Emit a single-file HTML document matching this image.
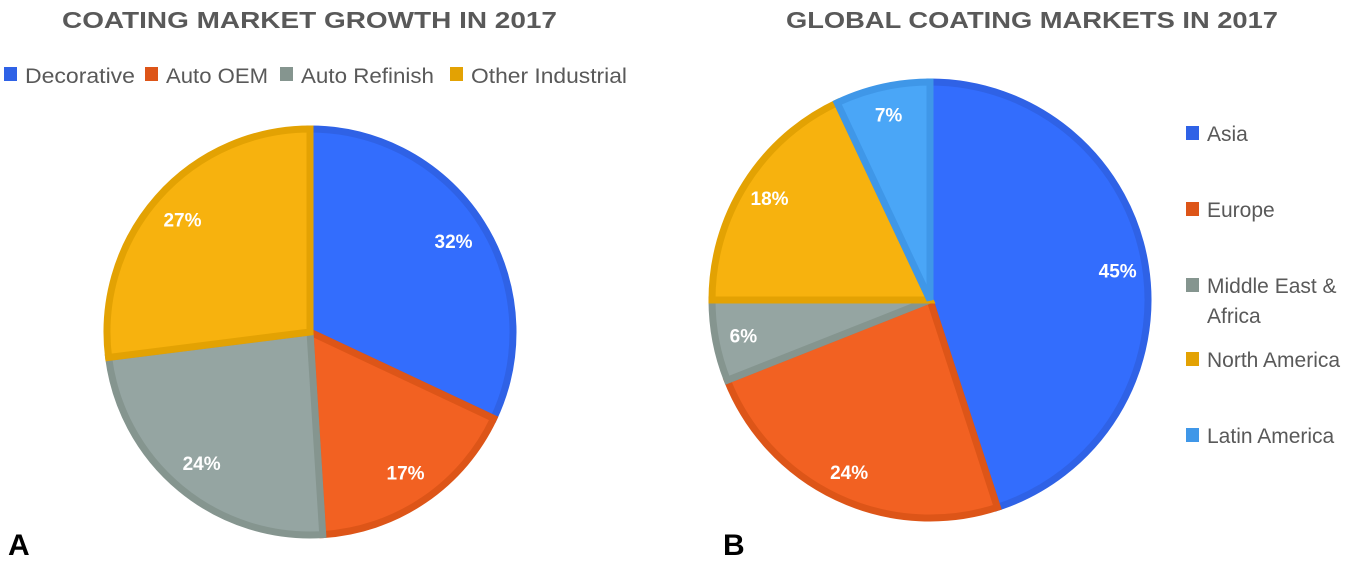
<!DOCTYPE html>
<html><head><meta charset="utf-8"><style>
body{margin:0;background:#fff;width:1358px;height:567px;overflow:hidden;font-family:"Liberation Sans",sans-serif}
svg{position:absolute;left:0;top:0}
</style></head><body>
<svg width="1358" height="567" id="svg">
<text x="62" y="28" font-size="23" font-weight="bold" fill="#595959" textLength="495" lengthAdjust="spacingAndGlyphs">COATING MARKET GROWTH IN 2017</text>
<text x="786" y="28" font-size="23" font-weight="bold" fill="#595959" textLength="492" lengthAdjust="spacingAndGlyphs">GLOBAL COATING MARKETS IN 2017</text>
<g id="legA"></g>
<g id="legB"></g>
<g id="pieA"></g>
<g id="pieB"></g>
<text x="8" y="555" font-size="30" font-weight="bold" fill="#000">A</text>
<text x="723" y="555" font-size="30" font-weight="bold" fill="#000">B</text>
</svg>
<script>
const catsA=["Decorative","Auto OEM","Auto Refinish","Other Industrial"];
const valsA=[32,17,24,27];
const catsB=["Asia","Europe","Middle East & Africa","North America","Latin America"];
const valsB=[45,24,6,18,7];
const NS="http://www.w3.org/2000/svg";
const fill={blue:"#336dfd",orange:"#f26122",gray:"#95a5a2",yellow:"#f7b20e",light:"#4aa6f7"};
const stroke={blue:"#2f62e6",orange:"#dd5518",gray:"#85958f",yellow:"#e3a203",light:"#3f97e8"};
const colA=["blue","orange","gray","yellow"];
const colB=["blue","orange","gray","yellow","light"];
function mk(t,a,p){const e=document.createElementNS(NS,t);for(const k in a)e.setAttribute(k,a[k]);p.appendChild(e);return e;}
function pie(gid,vals,cols,cx,cy,r,lr,names){
  const g=document.getElementById(gid);const tot=vals.reduce((a,b)=>a+b,0);let a0=0;
  vals.forEach((v,i)=>{
    const a1=a0+v/tot*2*Math.PI;
    const x0=cx+r*Math.sin(a0),y0=cy-r*Math.cos(a0),x1=cx+r*Math.sin(a1),y1=cy-r*Math.cos(a1);
    const p=mk("path",{d:`M${cx},${cy}L${x0},${y0}A${r},${r} 0 ${a1-a0>Math.PI?1:0} 1 ${x1},${y1}Z`,fill:fill[cols[i]],stroke:stroke[cols[i]],"stroke-width":7,"stroke-linejoin":"miter"},g);
    
    
    const m=(a0+a1)/2;
    const t=mk("text",{x:cx+lr*Math.sin(m),y:cy-lr*Math.cos(m)+7,"text-anchor":"middle","font-size":19,"font-weight":"bold",fill:"#fff"},g);
    t.textContent=v+"%";
    
    
    a0=a1;
  });
}
pie("pieA",valsA,colA,310,332,203,170,catsA);
pie("pieB",valsB,colB,930,300,218,190,catsB);
// legend A
const la=document.getElementById("legA");const ax=[4,145,280,450];const tl=[110,102,133,156];
catsA.forEach((c,i)=>{
  const r=mk("rect",{x:ax[i],y:67,width:13,height:14,fill:stroke[colA[i]]},la);
  
  
  const t=mk("text",{x:ax[i]+21,y:83,"font-size":21,fill:"#595959",textLength:tl[i],lengthAdjust:"spacingAndGlyphs"},la);t.textContent=c;
  
  
});
// legend B
const lb=document.getElementById("legB");const by=[133,209,285,359,435];
catsB.forEach((c,i)=>{
  const r=mk("rect",{x:1186,y:by[i]-7,width:13,height:14,fill:stroke[colB[i]]},lb);
  
  
  const t=mk("text",{x:1207,y:by[i]+8,"font-size":21,fill:"#595959"},lb);
  
  
  if(c.indexOf("&")>0){t.textContent="Middle East &";const t2=mk("text",{x:1207,y:by[i]+38,"font-size":21,fill:"#595959"},lb);t2.textContent="Africa";
    
    }
  else t.textContent=c;
});
</script>
</body></html>
